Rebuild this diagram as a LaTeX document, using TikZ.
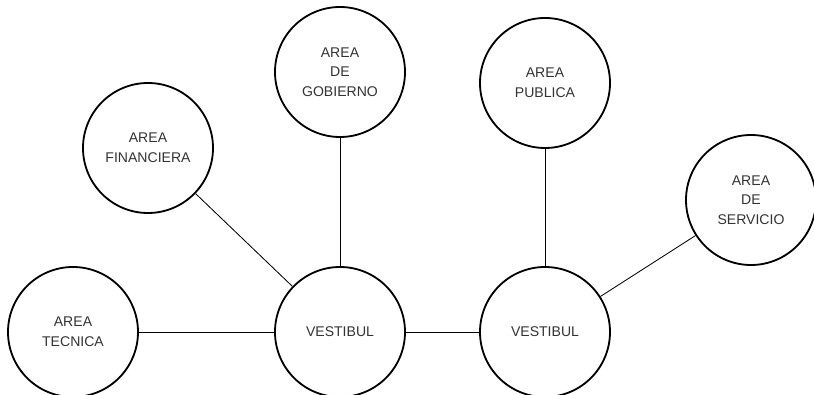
\documentclass[tikz,border=0pt]{standalone}
\usepackage{fontspec}
\setmainfont{Liberation Sans}
\usetikzlibrary{positioning}

\begin{document}
\begin{tikzpicture}[
    area/.style={circle, draw, line width=1.3pt, minimum size=3.25cm, inner sep=0pt,
                 align=center, font=\fontsize{10}{14}\selectfont, text=black!80},
    link/.style={line width=0.6pt}
]
\useasboundingbox (0,0) rectangle (20.35,9.875);

% Vestibules
\node[area] (vesta) at (8.5, 1.575) {VESTIBUL};
\node[area] (vestb) at (13.625, 1.575) {VESTIBUL};

% Areas around the first vestibule
\node[area] (tecnica) at (1.825, 1.575) {AREA\\TECNICA};
\node[area] (financiera) at (3.7, 6.175) {AREA\\FINANCIERA};
\node[area] (gobierno) at (8.5, 8.075) {AREA\\DE\\GOBIERNO};

% Areas around the second vestibule
\node[area] (publica) at (13.625, 7.8) {AREA\\PUBLICA};
\node[area] (servicio) at (18.775, 4.875) {AREA\\DE\\SERVICIO};

% Connections
\draw[link] (tecnica) -- (vesta);
\draw[link] (financiera) -- (vesta);
\draw[link] (gobierno) -- (vesta);
\draw[link] (vesta) -- (vestb);
\draw[link] (publica) -- (vestb);
\draw[link] (servicio) -- (vestb);

\end{tikzpicture}
\end{document}
